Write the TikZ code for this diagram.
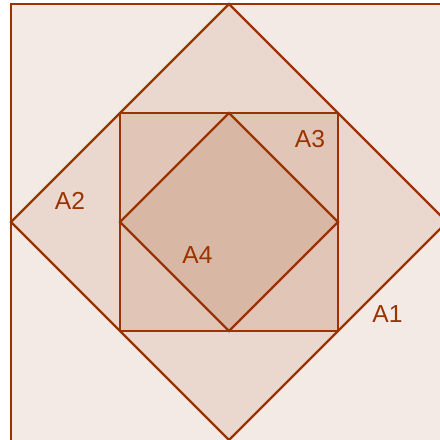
\documentclass[tikz,border=0pt]{standalone}
\usepackage{fontspec}
\setsansfont{Liberation Sans}
\usetikzlibrary{positioning}
\definecolor{rust}{RGB}{153,51,0}

\begin{document}
\begin{tikzpicture}[x=0.025cm,y=-0.025cm,
  area/.style={draw=rust,line width=1.6pt,fill=rust,fill opacity=0.1,
    line join=miter},
  lbl/.style={text=rust,font=\sffamily\fontsize{17.5}{19}\selectfont,
    inner sep=0pt}]

  \useasboundingbox (0,0) rectangle (440,440);
  \clip (0,0) rectangle (440,440);
  \fill[white] (0,0) rectangle (440,440);

  % corners of the figures
  \coordinate (c) at (229,222);
  \coordinate (n) at (229,4);
  \coordinate (w) at (11,222);
  \coordinate (e) at (447,222);
  \coordinate (s) at (229,440);
  \coordinate (nw) at (120,113);
  \coordinate (ne) at (338,113);
  \coordinate (se) at (338,331);
  \coordinate (sw) at (120,331);
  \coordinate (in) at (229,113);
  \coordinate (iw) at (120,222);
  \coordinate (ie) at (338,222);
  \coordinate (is) at (229,331);

  \path[area] (11,4) rectangle (480,480);
  \path[area] (n) -- (e) -- (s) -- (w) -- cycle;
  \path[area] (nw) -- (ne) -- (se) -- (sw) -- cycle;
  \path[area] (in) -- (ie) -- (is) -- (iw) -- cycle;

  \node[lbl] (a1) at (387.5,314) {A1};
  \node[lbl] (a2) at (70,201) {A2};
  \node[lbl] (a3) at (310,139) {A3};
  \node[lbl] (a4) at (197.5,255) {A4};
\end{tikzpicture}
\end{document}
